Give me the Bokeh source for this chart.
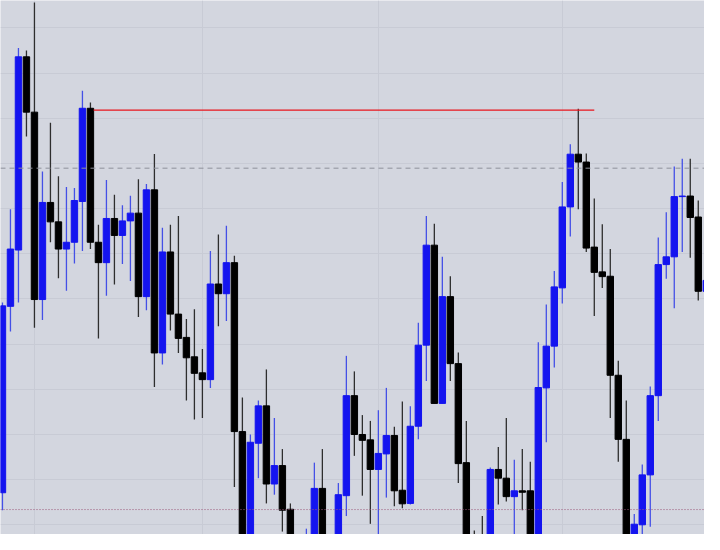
from bokeh.plotting import figure
from bokeh.models import ColumnDataSource, Range1d, Span, Grid, FixedTicker
from bokeh.embed import file_html
from bokeh.resources import INLINE

# ---- candle data (price units) ----
opens = [1493, 1685, 1743, 1942, 1885, 1692, 1792, 1772, 1744, 1751,
         1793, 1889, 1751, 1730, 1775.5, 1758, 1773, 1781, 1695, 1805,
         1637, 1741, 1677, 1653, 1633, 1616.5, 1609.5, 1708, 1698, 1730,
         1556, 1430, 1544, 1582.5, 1502, 1521, 1476, 1440, 1430, 1440,
         1497.5, 1446, 1436, 1490, 1593, 1553, 1547.5, 1517, 1533, 1552,
         1495.6, 1482, 1561.5, 1645, 1748, 1585, 1695, 1626, 1524, 1445,
         1445, 1430, 1517, 1508, 1489, 1495, 1495, 1438, 1601, 1644,
         1704, 1787.4, 1841.7, 1833.6, 1746, 1720.5, 1716, 1614, 1548, 1445,
         1460, 1511.4, 1593, 1728, 1736, 1798, 1798.6, 1777, 1700.5]
closes = [1685.5, 1744, 1942, 1885, 1692, 1792, 1772, 1744, 1751, 1794,
          1889, 1751, 1730, 1775.5, 1758, 1773, 1781, 1695, 1805, 1637,
          1741, 1677, 1652, 1632, 1616, 1609.5, 1708, 1698, 1730, 1556,
          1440, 1545, 1582.5, 1502, 1521, 1475, 1440, 1435, 1445, 1497.5,
          1440, 1436, 1491, 1593, 1553, 1547, 1517, 1533.5, 1552, 1495,
          1481.6, 1561.5, 1645, 1748, 1585, 1695, 1626, 1523, 1440, 1430,
          1428, 1517, 1508, 1489, 1495, 1493.5, 1440, 1601.4, 1644, 1705,
          1787.4, 1841.7, 1833.6, 1745, 1720, 1715.6, 1614, 1548, 1440, 1460.6,
          1511.4, 1593, 1728, 1736, 1798, 1798.6, 1776.5, 1700.5, 1711.7]
highs = [1689, 1785, 1951, 1948.5, 1998, 1824, 1874, 1819, 1808, 1807,
         1907, 1895, 1769, 1815, 1800, 1789, 1799, 1816, 1811, 1842,
         1766, 1769, 1778, 1672, 1682, 1641, 1742, 1759, 1768, 1737,
         1591, 1553, 1588, 1620, 1570, 1538, 1482, 1448, 1456, 1524,
         1538, 1449, 1503, 1634, 1618, 1573, 1567, 1578, 1601, 1561,
         1587, 1582, 1668, 1778, 1770, 1736, 1716, 1637.5, 1567, 1454,
         1469, 1519, 1540, 1570, 1527, 1538, 1525, 1648, 1687, 1721.5,
         1813, 1852, 1888.6, 1842.4, 1796, 1769.5, 1744, 1629, 1588, 1471,
         1522, 1602.5, 1756, 1782, 1829, 1837, 1837, 1794, 1730]
lows = [1475, 1659, 1689, 1860, 1663, 1671, 1751, 1714, 1701, 1729,
        1742, 1744, 1652, 1696, 1707.5, 1728.5, 1711, 1674, 1681, 1602,
        1625, 1660, 1637, 1588, 1568.5, 1570, 1601, 1664.5, 1670, 1499,
        1420, 1415, 1508, 1482, 1491, 1453, 1420, 1420, 1420, 1425,
        1425, 1428, 1425, 1469, 1531, 1490, 1461, 1440, 1488, 1479,
        1477, 1481, 1548, 1608, 1585, 1585, 1608, 1503, 1420, 1420,
        1415, 1420, 1481, 1484, 1440, 1475, 1420, 1425, 1545, 1622,
        1688, 1757, 1785, 1741, 1675, 1704, 1570, 1525, 1420, 1430,
        1440, 1458, 1567, 1713.5, 1683, 1741, 1735, 1691, 1695]

# reference levels
resistance_level = [1887]
resistance_start = [11.4]
resistance_end = [74.0]
dashed_level = 1827.3
dotted_level = 1475.7
ygrid_levels = [1971.7, 1925.2, 1878.7, 1832.2, 1785.7, 1739.2, 1692.7,
                1646.2, 1599.7, 1553.2, 1506.7, 1460.2]
xgrid_index = [4, 25, 47, 70]

idx = list(range(len(opens)))
up = [c >= o for o, c in zip(opens, closes)]
body_col = ["#1414ef" if u else "#000000" for u in up]
wick_col = ["#4450e6" if u else "#2e2e2e" for u in up]

src = ColumnDataSource(dict(x=idx, open=opens, close=closes, high=highs, low=lows,
                            body=body_col, wick=wick_col))

BG = "#d3d6df"
p = figure(width=704, height=534,
           x_range=Range1d(-0.245, 87.78), y_range=Range1d(1450, 2000),
           output_backend="svg", toolbar_location=None,
           x_axis_location=None, y_axis_location=None, min_border=0,
           background_fill_color=BG, border_fill_color=BG,
           outline_line_color=None)
p.grid.grid_line_color = None

p.add_layout(Grid(dimension=1, ticker=FixedTicker(ticks=ygrid_levels),
                  grid_line_color="#c8cbd5", grid_line_width=1))
p.add_layout(Grid(dimension=0, ticker=FixedTicker(ticks=xgrid_index),
                  grid_line_color="#c8cbd5", grid_line_width=1))

p.add_layout(Span(location=dashed_level, dimension="width",
                  line_color="#8e919b", line_dash="5 4", line_width=1))
p.add_layout(Span(location=dotted_level, dimension="width",
                  line_color="#9a5878", line_dash="1 2", line_width=1))

p.segment(x0="x", y0="low", x1="x", y1="high", line_color="wick",
          line_width=1.3, source=src)
p.vbar(x="x", width=0.8, top="open", bottom="close", fill_color="body",
       line_color="body", line_width=1, source=src)

p.segment(x0=resistance_start, y0=resistance_level, x1=resistance_end,
          y1=resistance_level, line_color="#e8141c", line_width=1.2)

open("out.html", "w").write(file_html(p, INLINE))
